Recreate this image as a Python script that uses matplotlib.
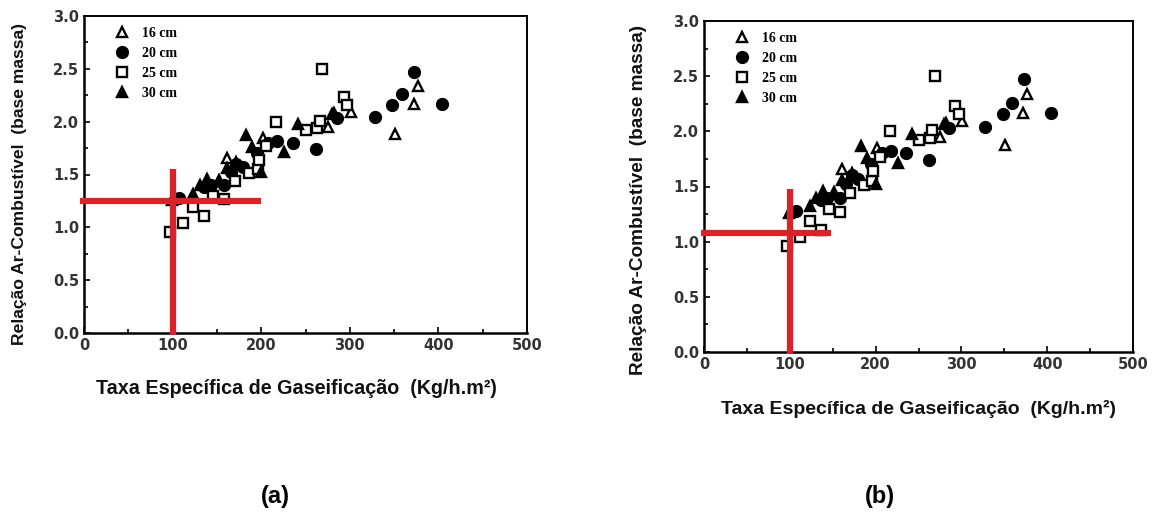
import matplotlib
matplotlib.use("Agg")
import matplotlib.pyplot as plt
from matplotlib.lines import Line2D
from matplotlib.ticker import MultipleLocator

# air-fuel ratio vs specific gasification rate, by bed height
x16 = [161, 202, 275, 280, 301, 351, 372, 377]
y16 = [1.66, 1.85, 1.95, 2.07, 2.09, 1.88, 2.17, 2.34]

x20 = [107, 136, 143, 158, 166, 172, 180, 195, 208, 218, 236, 262, 286, 328, 348, 359, 373, 404]
y20 = [1.28, 1.38, 1.40, 1.40, 1.52, 1.60, 1.57, 1.70, 1.80, 1.82, 1.80, 1.74, 2.03, 2.04, 2.16, 2.26, 2.47, 2.17]

x25 = [97, 112, 123, 136, 146, 158, 170, 186, 196, 197, 205, 217, 250, 263, 266, 269, 293, 297]
y25 = [0.96, 1.04, 1.19, 1.11, 1.30, 1.27, 1.44, 1.51, 1.55, 1.64, 1.77, 2.00, 1.92, 1.94, 2.01, 2.50, 2.23, 2.16]

x30 = [99, 123, 131, 139, 152, 161, 172, 183, 190, 200, 226, 242, 282]
y30 = [1.26, 1.32, 1.40, 1.46, 1.45, 1.56, 1.62, 1.87, 1.76, 1.52, 1.71, 1.98, 2.08]

series_labels = ["16 cm", "20 cm", "25 cm", "30 cm"]

# reading guides (red cross) for each panel: rate, ratio, end of horizontal, top of vertical
guide_a = (100, 1.25, 200, 1.55)
guide_b = (100, 1.08, 148, 1.48)

RED = "#d8232a"
LABEL_FAMILY = "Liberation Sans"


def draw_panel(ax, guide, ylabel_pos, ylabel_size, xlabel_pos, xlabel_size, legend_anchor):
    styles = [
        dict(marker="^", mfc="white", mec="black"),
        dict(marker="o", mfc="black", mec="black"),
        dict(marker="s", mfc="white", mec="black"),
        dict(marker="^", mfc="black", mec="black"),
    ]
    data = [(x16, y16), (x20, y20), (x25, y25), (x30, y30)]
    handles = []
    for (xs, ys), st, lab in zip(data, styles, series_labels):
        ms = 6.8 if st["marker"] == "s" else 7.8
        ax.plot(xs, ys, ls="none", ms=ms, mew=1.7, **st)
        handles.append(Line2D([], [], ls="none", ms=ms, mew=1.7, label=lab, **st))

    ax.set_xlim(0, 500)
    ax.set_ylim(0, 3.0)
    ax.xaxis.set_major_locator(MultipleLocator(100))
    ax.xaxis.set_minor_locator(MultipleLocator(50))
    ax.yaxis.set_major_locator(MultipleLocator(0.5))
    ax.yaxis.set_minor_locator(MultipleLocator(0.25))
    ax.yaxis.set_major_formatter(lambda v, p: f"{v:.1f}")
    ax.tick_params(which="both", direction="in", top=False, right=False,
                   colors="black", labelcolor="#333333")
    ax.tick_params(which="major", length=4, width=1.2, labelsize=10.5)
    ax.tick_params(which="minor", length=3, width=1.2)
    for lab in ax.get_xticklabels() + ax.get_yticklabels():
        lab.set_fontweight("bold")
        lab.set_family("DejaVu Sans")
    for side in ["left", "bottom"]:
        ax.spines[side].set_linewidth(1.8)
    for side in ["top", "right"]:
        ax.spines[side].set_linewidth(1.4)

    ax.legend(handles=handles, loc="upper left", bbox_to_anchor=legend_anchor,
              frameon=False, handlelength=1.0, handletextpad=0.95,
              labelspacing=0.5, borderaxespad=0,
              prop=dict(family="Liberation Serif", weight="bold", size=10))

    gx, gy, hx_end, vy_end = guide
    ax.plot([-4, hx_end], [gy, gy], color=RED, lw=4.5, solid_capstyle="butt",
            clip_on=False, zorder=5)
    ax.plot([gx, gx], [-0.02, vy_end], color=RED, lw=4.5, solid_capstyle="butt",
            clip_on=False, zorder=5)

    ax.set_ylabel("Relação Ar-Combustível  (base massa)", family=LABEL_FAMILY,
                  weight="bold", size=ylabel_size, color="#111111")
    ax.set_xlabel("Taxa Específica de Gaseificação  (Kg/h.m²)", family=LABEL_FAMILY,
                  weight="bold", size=xlabel_size, color="#111111")
    ax.yaxis.set_label_coords(*ylabel_pos)
    ax.xaxis.set_label_coords(*xlabel_pos)


fig = plt.figure(figsize=(11.56, 5.16), dpi=100)

W, H = 1156, 516
ax_a = fig.add_axes([84 / W, (H - 333) / H, 443 / W, 317 / H])
ax_b = fig.add_axes([704 / W, (H - 352) / H, 429 / W, 331 / H])

draw_panel(ax_a, guide_a, (-0.128, 0.47), 12.6, (0.48, -0.145), 14.2, (0.058, 0.983))
draw_panel(ax_b, guide_b, (-0.133, 0.46), 13.7, (0.5, -0.145), 14.0, (0.059, 0.983))

fig.text(275 / W, 1 - 497 / H, "(a)", ha="center", va="center",
         family="Liberation Sans", weight="bold", size=17)
fig.text(880 / W, 1 - 497 / H, "(b)", ha="center", va="center",
         family="Liberation Sans", weight="bold", size=17)

fig.savefig("out.png", dpi=100, facecolor="white")
